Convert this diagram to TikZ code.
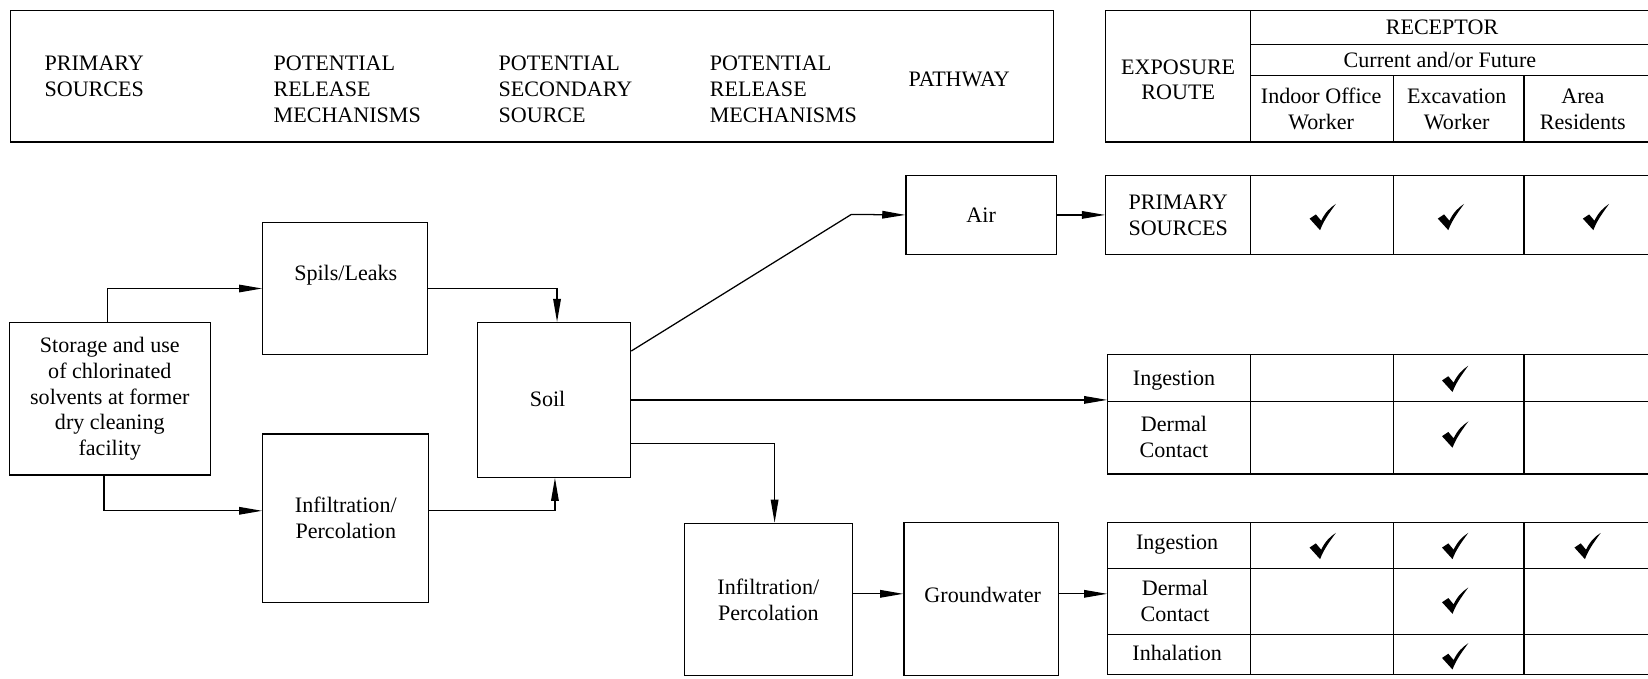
\documentclass[tikz,border=0pt]{standalone}
\usepackage{fontspec}
\setmainfont{LiberationSerif}[Extension=.ttf, UprightFont=*-Regular, BoldFont=*-Bold]
\usetikzlibrary{arrows.meta,calc}
\newcommand\mybox[6]{\node[box, minimum width={(#4-(#2))*0.5pt}, minimum height={(#5-(#3))*0.5pt}] (#1) at ({(#2+#4)/2},{(#3+#5)/2}) {#6};}
\begin{document}
\begin{tikzpicture}[x=0.5pt,y=-0.5pt,
  every node/.style={font=\fontsize{10.5}{12.3}\selectfont},
  box/.style={draw, line width=0.6pt, inner sep=0pt, align=center},
  txt/.style={inner sep=0pt, align=center},
  arr/.style={-{Triangle[length=11pt,width=3.6pt]}, line width=0.6pt},
  ln/.style={line width=0.6pt},
  hd/.style={anchor=west, align=left, inner sep=0pt},
  chk/.pic={\fill (-13,1) -- (-7,-3) -- (-2,3) .. controls (2,-5) and (6,-9) .. (12,-13) .. controls (4,-2) and (0,4) .. (-3,12) -- cycle;}
]
\useasboundingbox (0,0) rectangle (1568,646);

% header left
\mybox{hdr}{10}{10}{1002}{135}{}
\node[hd] (h1) at (42,73) {PRIMARY\\SOURCES};
\node[hd] (h2) at (260,85) {POTENTIAL\\RELEASE\\MECHANISMS};
\node[hd] (h3) at (474,85) {POTENTIAL\\SECONDARY\\SOURCE};
\node[hd] (h4) at (675,85) {POTENTIAL\\RELEASE\\MECHANISMS};
\node[hd] (h5) at (864,76) {PATHWAY};

% header right
\mybox{rhdr}{1052}{10}{1570}{135}{}
\draw[ln] (1190,10) -- (1190,135);
\draw[ln] (1190,42) -- (1570,42);
\draw[ln] (1190,72) -- (1570,72);
\draw[ln] (1326,72) -- (1326,135);
\draw[ln] (1450,72) -- (1450,135);
\node[txt] (er) at (1121,76) {EXPOSURE\\ROUTE};
\node[txt] (rc) at (1372,26) {RECEPTOR};
\node[txt] (cf) at (1370,57) {Current and/or Future};
\node[txt] (r1) at (1257,104) {Indoor Office\\Worker};
\node[txt] (r2) at (1386,104) {Excavation\\Worker};
\node[txt] (r3) at (1506,104) {Area\\Residents};

% table row 1
\mybox{ps}{1052}{167}{1190}{242}{PRIMARY\\SOURCES}
\draw[ln] (1190,167) rectangle (1570,242);
\draw[ln] (1326,167) -- (1326,242);
\draw[ln] (1450,167) -- (1450,242);
\pic at (1259,207) {chk};
\pic at (1381,207) {chk};
\pic at (1519,207) {chk};

% table 2
\mybox{t2}{1054}{337}{1190}{451}{}
\draw[ln] (1190,337) rectangle (1570,451);
\draw[ln] (1054,382) -- (1570,382);
\draw[ln] (1326,337) -- (1326,451);
\draw[ln] (1450,337) -- (1450,451);
\node[txt] (t2a) at (1117,362) {Ingestion};
\node[txt] (t2b) at (1117,416) {Dermal\\Contact};
\pic at (1385,361) {chk};
\pic at (1385,414) {chk};

% table 3
\mybox{t3}{1054}{497}{1190}{642}{}
\draw[ln] (1190,497) rectangle (1570,642);
\draw[ln] (1054,541) -- (1570,541);
\draw[ln] (1054,604) -- (1570,604);
\draw[ln] (1326,497) -- (1326,642);
\draw[ln] (1450,497) -- (1450,642);
\node[txt] (t3a) at (1120,518) {Ingestion};
\node[txt] (t3b) at (1118,572) {Dermal\\Contact};
\node[txt] (t3c) at (1120,621) {Inhalation};
\pic at (1259,520) {chk};
\pic at (1385,520) {chk};
\pic at (1511,520) {chk};
\pic at (1385,572) {chk};
\pic at (1385,625) {chk};

% flow boxes
\mybox{src}{9}{307}{200}{452}{Storage and use\\of chlorinated\\solvents at former\\dry cleaning\\facility}
\mybox{spl}{250}{212}{407}{337}{}
\node[txt] (spltxt) at (329,262) {Spils/Leaks};
\mybox{inf1}{250}{413}{408}{573}{Infiltration/\\Percolation}
\mybox{soil}{454}{307}{600}{454}{}
\node[txt] (soiltxt) at (521,380) {Soil};
\mybox{air}{862}{167}{1005}{242}{Air}
\mybox{inf2}{651}{498}{811}{643}{Infiltration/\\Percolation}
\mybox{gw}{860}{497}{1007}{643}{}
\node[txt] (gwtxt) at (935,566) {Groundwater};

% connectors
\coordinate (a1) at (102,274);
\coordinate (a2) at (530,0);
\coordinate (a3) at (99,486);
\coordinate (a4) at (528,0);
\coordinate (a5) at (810,204);
\coordinate (a6) at (0,334);
\coordinate (a7) at (737,422);
\coordinate (a8) at (0,565);
\draw[arr] (src.north -| a1) |- (spl.west);
\draw[arr] (spl.east) -| (soil.north -| a2);
\draw[arr] (src.south -| a3) |- (inf1.west |- a3);
\draw[arr] (inf1.east |- a3) -| (soil.south -| a4);
\draw[arr] (soil.east |- a6) -- (a5) -- (air.west);
\draw[arr] (air.east) -- (ps.west);
\draw[arr] (soil.east) -- (soil.east -| t2.west);
\draw[arr] (soil.east |- a7) -| (inf2.north -| a7);
\draw[arr] (inf2.east |- a8) -- (gw.west |- a8);
\draw[arr] (gw.east |- a8) -- (t3.west |- a8);
\end{tikzpicture}
\end{document}
